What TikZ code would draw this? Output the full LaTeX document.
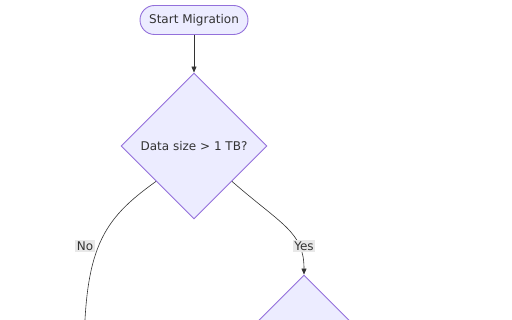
\documentclass[tikz,border=0pt]{standalone}
\usepackage{fontspec}
\setmainfont{DejaVu Sans}
\usetikzlibrary{shapes.geometric,arrows.meta}
\definecolor{nodefill}{HTML}{ECECFF}
\definecolor{nodeline}{HTML}{9370DB}
\definecolor{txt}{HTML}{333333}
\definecolor{edgeline}{HTML}{333333}
\definecolor{lblbg}{HTML}{E8E8E8}
\tikzset{
  startbox/.style={rectangle, rounded corners=14.5pt, fill=nodefill, draw=nodeline, line width=0.9pt,
    minimum width=108pt, minimum height=29pt, inner sep=0pt, text=txt, font=\fontsize{12pt}{14pt}\selectfont},
  decide/.style={diamond, fill=nodefill, draw=nodeline, line width=0.9pt,
    minimum width=146pt, minimum height=146pt, inner sep=0pt, text=txt, font=\fontsize{12pt}{14pt}\selectfont},
  flow/.style={draw=edgeline, line width=0.6pt},
  tipped/.style={-{Triangle[length=6pt,width=5pt]}},
  elabel/.style={fill=lblbg, inner sep=1.5pt, text=txt, font=\fontsize{12pt}{14pt}\selectfont}
}
\begin{document}
\begin{tikzpicture}[x=1pt,y=1pt]
\useasboundingbox (0,0) rectangle (512,320);
\clip (0,0) rectangle (512,320);
\node[startbox] (start) at (194,300) {Start Migration};
\node[decide] (d1) at (194,174) {Data size > 1 TB?};
\node[decide] (d2) at (304,-28) {};
\coordinate (noend) at (84,-40);
\draw[flow,tipped] (start.south) -- (d1.north);
\draw[flow] (d1.223) .. controls (102,100) and (84,72) .. (noend);
\draw[flow,tipped] (d1.317) .. controls (282,95) and (304,88) .. (d2.north);
\node[elabel] (lno) at (85,74) {No};
\node[elabel] (lyes) at (304,74) {Yes};
\end{tikzpicture}
\end{document}
